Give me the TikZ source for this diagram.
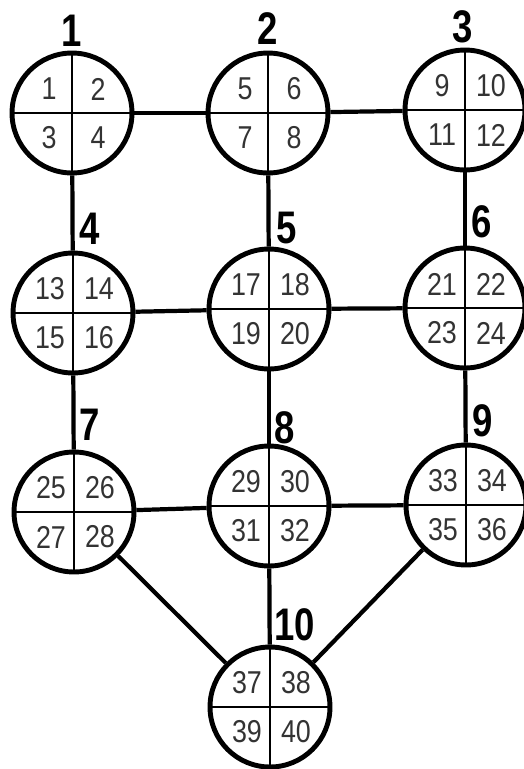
\documentclass[tikz,border=0pt]{standalone}
\usepackage{fontspec}
\setmainfont{Liberation Sans}
\newfontfamily\tagfont{Liberation Sans}[FakeStretch=0.8]
\newfontfamily\numfont{Liberation Sans}[FakeStretch=0.85]
\usetikzlibrary{calc}

\begin{document}
\begin{tikzpicture}[
    x=0.02cm, y=-0.02cm,
    cell/.style={circle, draw=black, line width=2.8pt, minimum size=2.4cm, inner sep=0pt,
        path picture={\draw[line width=1.3pt]
            (path picture bounding box.north) -- (path picture bounding box.south)
            (path picture bounding box.west) -- (path picture bounding box.east);}},
    link/.style={line width=2.4pt},
    num/.style={font=\numfont\fontsize{18}{20}\selectfont, text=black!80, inner sep=0pt},
    tag/.style={font=\tagfont\bfseries\fontsize{26}{28}\selectfont, inner sep=0pt}
]
    \useasboundingbox (0,0) rectangle (524,769);

    % circles with their four cells
    \foreach \n/\x/\y in {1/72/113, 2/268/113, 3/465/110,
                          4/73/313, 5/269/309, 6/465/308,
                          7/74/512, 8/269/506, 9/466/505,
                          10/270/707} {
        \node[cell] (c\n) at (\x,\y) {};
        \pgfmathtruncatemacro{\a}{4*(\n-1)+1}
        \pgfmathtruncatemacro{\b}{4*(\n-1)+2}
        \pgfmathtruncatemacro{\c}{4*(\n-1)+3}
        \pgfmathtruncatemacro{\d}{4*(\n-1)+4}
        \node[num] (c\n-a) at ($(c\n)+(-23,-24)$) {\a};
        \node[num] (c\n-b) at ($(c\n)+(26,-24)$) {\b};
        \node[num] (c\n-c) at ($(c\n)+(-23,25)$) {\c};
        \node[num] (c\n-d) at ($(c\n)+(26,25)$) {\d};
    }

    % group numbers
    \foreach \n/\x/\y in {1/72/31, 2/268/29, 3/463/27,
                          4/90/229, 5/287/228, 6/482/222,
                          7/90/425, 8/285/428, 9/483/421,
                          10/295/625}
        \node[tag] (t\n) at (\x,\y) {\n};

    % connections
    \draw[link] (c1) -- (c2);
    \draw[link] (c2) -- (c3);
    \draw[link] (c4) -- (c5);
    \draw[link] (c5) -- (c6);
    \draw[link] (c7) -- (c8);
    \draw[link] (c8) -- (c9);
    \draw[link] (c1) -- (c4);
    \draw[link] (c2) -- (c5);
    \draw[link] (c3) -- (c6);
    \draw[link] (c4) -- (c7);
    \draw[link] (c5) -- (c8);
    \draw[link] (c6) -- (c9);
    \draw[link] (c7) -- (c10);
    \draw[link] (c8) -- (c10);
    \draw[link] (c9) -- (c10);
\end{tikzpicture}
\end{document}
